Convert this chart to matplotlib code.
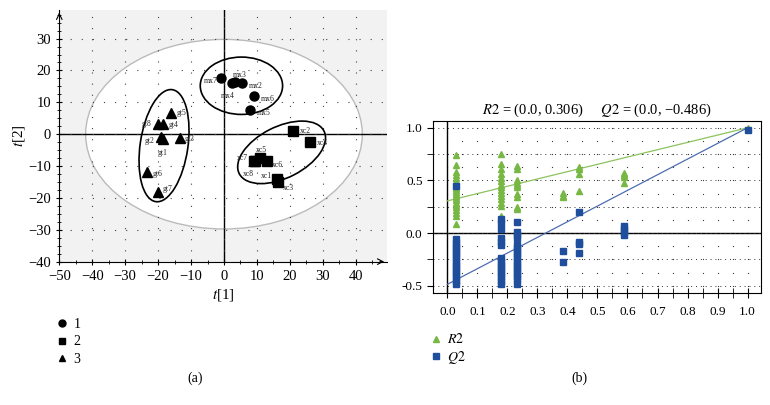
import numpy as np
import matplotlib.pyplot as plt
from matplotlib.patches import Ellipse
from matplotlib.lines import Line2D
from matplotlib.ticker import MultipleLocator

plt.rcParams['font.family'] = ['Liberation Serif', 'DejaVu Serif']
plt.rcParams['mathtext.fontset'] = 'stix'

# ---- panel (a): score plot ----
g1_names = ['mx7', 'mx3', 'mx4', 'mx2', 'mx6', 'mx5']
g1_t1 = [-1.0, 3.5, 2.5, 5.5, 9.0, 8.0]
g1_t2 = [17.5, 16.5, 16.0, 16.0, 12.0, 7.5]

g2_names = ['xc2', 'xc4', 'xc5', 'xc7', 'xc6', 'xc8', 'xc1', 'xc3']
g2_t1 = [21.0, 26.0, 11.0, 9.0, 13.0, 9.5, 16.0, 16.5]
g2_t2 = [1.0, -2.3, -7.5, -8.5, -8.5, -8.5, -14.0, -15.0]

g3_names = ['gt5', 'gt8', 'gt4', 'gt2', 'gt1', 'gt3', 'gt6', 'gt7']
g3_t1 = [-16.0, -20.0, -18.5, -19.0, -18.5, -13.5, -23.5, -20.0]
g3_t2 = [6.5, 3.3, 3.3, -0.8, -1.5, -1.2, -12.0, -18.0]

# label offsets in points (style only)
offsets = {
    'mx7': (-12, -2), 'mx3': (-2, 5), 'mx4': (-8, -9), 'mx2': (5, -2),
    'mx6': (5, -2), 'mx5': (5, -2),
    'xc2': (5, 0), 'xc4': (5, -1), 'xc5': (-3, 6), 'xc7': (-12, 2),
    'xc6': (4, -3), 'xc8': (-9, -9), 'xc1': (-11, 2), 'xc3': (3, -4),
    'gt5': (4, 0), 'gt8': (-12, 0), 'gt4': (4, -1), 'gt2': (-12, -3),
    'gt1': (-4, -10), 'gt3': (4, -1), 'gt6': (4, -1), 'gt7': (3, 2),
}

# ---- panel (b): permutation test ----
r2_cols = [0.03, 0.18, 0.233, 0.386, 0.439, 0.59, 1.0]
r2_vals = [
    [0.74, 0.65, 0.58, 0.55, 0.52, 0.49, 0.47, 0.45, 0.43, 0.41, 0.39, 0.37,
     0.35, 0.33, 0.31, 0.29, 0.27, 0.25, 0.22, 0.19, 0.16, 0.09],
    [0.75, 0.66, 0.61, 0.56, 0.52, 0.49, 0.46, 0.44, 0.41, 0.38, 0.35, 0.32,
     0.29, 0.26, 0.16, 0.13],
    [0.64, 0.61, 0.50, 0.48, 0.46, 0.44, 0.37, 0.34, 0.25, 0.23],
    [0.38, 0.35, 0.34],
    [0.63, 0.61, 0.56, 0.40],
    [0.57, 0.55, 0.53, 0.48],
    [1.0],
]
q2_cols = [0.03, 0.18, 0.233, 0.386, 0.439, 0.59, 1.0]
q2_vals = [
    [0.45, -0.06, -0.09, -0.12, -0.15, -0.18, -0.21, -0.24, -0.27, -0.30,
     -0.33, -0.36, -0.39, -0.42, -0.45, -0.48],
    [0.13, 0.10, 0.04, -0.05, -0.08, -0.11, -0.24, -0.27, -0.30, -0.33,
     -0.36, -0.39, -0.42, -0.45, -0.48],
    [0.11, 0.01, -0.02, -0.05, -0.11, -0.14, -0.17, -0.20, -0.23, -0.26,
     -0.29, -0.32, -0.35, -0.38, -0.41, -0.44, -0.48],
    [-0.17, -0.27],
    [0.20, -0.08, -0.10, -0.19],
    [0.07, 0.04, 0.01, -0.02],
    [0.98],
]
r2_line = [0.306, 1.0]
q2_line = [-0.486, 1.0]
line_x = [0.0, 1.0]

green = '#77b844'
blue = '#1f4e9c'

fig = plt.figure(figsize=(7.7, 4.05), dpi=100)

# ===== panel (a) =====
ax = fig.add_axes([0.077, 0.354, 0.4256, 0.6215])
ax.set_facecolor('#f2f2f2')
ax.set_xlim(-50, 49.5)
ax.set_ylim(-40, 39)
ax.add_patch(Ellipse((0, 0), 84, 59.5, facecolor='white', edgecolor='#bbbbbb',
                     lw=1.0, zorder=0.5))
ax.grid(True, which='major', color='#444444', linestyle=(0, (1, 9)), lw=0.8)
ax.axhline(0, color='black', lw=1.0, zorder=1)
ax.axvline(0, color='black', lw=1.0, zorder=1)

for c, w, h, a in [((5.3, 15.2), 25, 18, 0), ((-18.2, -3.6), 35.5, 14.5, 82),
                   ((17.5, -5.7), 29, 16, 28)]:
    ax.add_patch(Ellipse(c, w, h, angle=a, facecolor='none', edgecolor='black',
                         lw=1.2, zorder=2))

ax.plot(g1_t1, g1_t2, 'o', color='black', ms=6.5, zorder=3, ls='none')
ax.plot(g2_t1, g2_t2, 's', color='black', ms=6.5, zorder=3, ls='none')
ax.plot(g3_t1, g3_t2, '^', color='black', ms=6.5, zorder=3, ls='none')
for names, xs, ys in [(g1_names, g1_t1, g1_t2), (g2_names, g2_t1, g2_t2),
                      (g3_names, g3_t1, g3_t2)]:
    for n, x, y in zip(names, xs, ys):
        ax.annotate(n, (x, y), xytext=offsets[n], textcoords='offset points',
                    fontsize=5.5, va='center', color='#222222', zorder=4)

for s in ['top', 'right']:
    ax.spines[s].set_visible(False)
ax.xaxis.set_minor_locator(MultipleLocator(5))
ax.yaxis.set_minor_locator(MultipleLocator(2.5))
ax.set_xticks(np.arange(-50, 41, 10))
ax.set_yticks(np.arange(-40, 31, 10))
ax.tick_params(which='both', direction='inout', labelsize=10.5)
ax.tick_params(which='major', length=5)
ax.tick_params(which='minor', length=3)
ax.annotate('', xy=(1.0, 0), xytext=(0.97, 0), xycoords='axes fraction',
            arrowprops=dict(arrowstyle='->', lw=0.8, color='black'))
ax.annotate('', xy=(0, 1.0), xytext=(0, 0.97), xycoords='axes fraction',
            arrowprops=dict(arrowstyle='->', lw=0.8, color='black'))
ax.set_xlabel('$t$[1]', fontsize=11, labelpad=3)
ax.set_ylabel('$t$[2]', fontsize=11, labelpad=1)

handles_a = [Line2D([], [], marker=m, color='black', ls='none', ms=5)
             for m in ['o', 's', '^']]
fig.legend(handles_a, ['1', '2', '3'], loc='upper left',
           bbox_to_anchor=(0.054, 0.245), frameon=False, fontsize=10,
           handletextpad=0.2, labelspacing=0.3, handlelength=1.2)
fig.text(0.254, 0.065, '(a)', ha='center', va='center', fontsize=10)

# ===== panel (b) =====
bx = fig.add_axes([0.5623, 0.2758, 0.4257, 0.4254])
bx.set_xlim(-0.048, 1.044)
bx.set_ylim(-0.571, 1.064)
bx.set_xticks(np.arange(0, 1.01, 0.1))
bx.set_xticks(np.arange(0, 1.01, 0.05), minor=True)
bx.set_yticks([-0.5, 0.0, 0.5, 1.0])
bx.set_yticks([-0.25, 0.25, 0.75], minor=True)
bx.xaxis.set_major_formatter(plt.FormatStrFormatter('%.1f'))
bx.yaxis.set_major_formatter(plt.FormatStrFormatter('%.1f'))
# dotted background: dense rows at quarter ticks, dot lattice elsewhere
bx.grid(True, which='both', axis='y', color='#333333', linestyle=(0, (1, 4)), lw=0.7)
gx, gy = np.meshgrid(np.arange(0, 1.01, 0.05), np.arange(-0.5, 1.01, 0.125))
bx.scatter(gx.ravel(), gy.ravel(), s=0.8, color='#333333', lw=0, zorder=0.8)
bx.axhline(0, color='black', lw=1.0, zorder=1)
bx.axvline(0, color='black', lw=1.0, zorder=1)
bx.tick_params(which='both', axis='x', direction='inout', labelsize=9.5, pad=6)
bx.tick_params(which='major', axis='x', length=7)
bx.tick_params(which='minor', axis='x', length=7)
bx.tick_params(which='both', axis='y', direction='out', labelsize=9.5, length=4)

bx.plot(line_x, r2_line, color='#8cc35e', lw=0.9, zorder=2)
bx.plot(line_x, q2_line, color='#4d6db0', lw=0.9, zorder=2)
rx = [c for c, v in zip(r2_cols, r2_vals) for _ in v]
ry = [y for v in r2_vals for y in v]
qx = [c for c, v in zip(q2_cols, q2_vals) for _ in v]
qy = [y for v in q2_vals for y in v]
bx.plot(rx, ry, '^', color=green, ms=4.5, ls='none', zorder=3)
bx.plot(qx, qy, 's', color=blue, ms=4.5, ls='none', zorder=4)
bx.set_title('$R2$ = (0.0, 0.306)     $Q2$ = (0.0, \u22120.486)', fontsize=10.5, pad=5)

handles_b = [Line2D([], [], marker='^', color=green, ls='none', ms=4),
             Line2D([], [], marker='s', color=blue, ls='none', ms=4)]
fig.legend(handles_b, ['$R2$', '$Q2$'], loc='upper left',
           bbox_to_anchor=(0.541, 0.21), frameon=False, fontsize=10,
           handletextpad=0.3, labelspacing=0.15, handlelength=1.0)
fig.text(0.753, 0.067, '(b)', ha='center', va='center', fontsize=10)

fig.savefig('out.png', dpi=100)
